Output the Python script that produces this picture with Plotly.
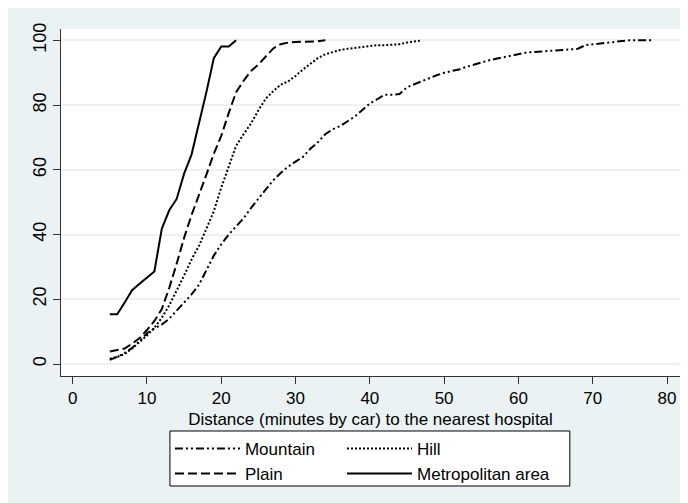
import plotly.graph_objects as go

# ---- data ----
metro_x = [5, 6, 7, 8, 9, 10, 11, 12, 13, 14, 15, 16, 17, 18, 19, 20, 21, 22]
metro_y = [15.4, 15.4, 19.0, 22.8, 24.8, 26.7, 28.6, 41.8, 47.5, 51.0, 58.8, 64.7, 74.0, 84.0, 94.5, 98.1, 98.1, 100]

plain_x = [5, 6, 7, 8, 9, 10, 11, 12, 13, 14, 15, 16, 17, 18, 19, 20, 21, 22, 23, 24, 25, 26, 27, 28, 29, 30, 31, 32, 33, 34]
plain_y = [3.9, 4.3, 4.8, 6.3, 8.0, 10.5, 13.3, 17.0, 23.5, 31.0, 39.0, 46.0, 52.0, 58.5, 65.0, 70.5, 77.5, 84.0,
           87.5, 90.5, 92.5, 95.0, 97.5, 98.8, 99.3, 99.5, 99.5, 99.5, 99.7, 100]

hill_x = list(range(5, 48))
hill_y = [1.6, 2.2, 3.1, 4.8, 6.8, 8.8, 11.2, 14.3, 18.1, 22.6, 27.3, 32.3, 36.5, 41.8, 47.2, 54.5, 61.0, 67.4,
          71.0, 74.3, 78.4, 82.0, 84.3, 86.3, 87.3, 89.0, 91.0, 92.8, 94.5, 95.7, 96.4, 97.0, 97.4, 97.7, 98.1,
          98.3, 98.5, 98.5, 98.6, 98.8, 99.3, 99.6, 100]

mountain_x = list(range(5, 79))
mountain_y = [1.3, 2.2, 3.4, 5.0, 7.0, 9.5, 11.0, 12.2, 14.0, 16.5, 18.8, 21.5, 24.5, 29.0, 33.5, 37.0, 40.0, 42.5,
              45.0, 48.2, 51.0, 54.0, 56.8, 59.0, 61.0, 62.5, 64.0, 66.5, 68.5, 71.0, 72.5, 73.5, 75.0, 76.5, 78.5,
              80.5, 81.8, 83.2, 83.2, 83.4, 85.5, 86.5, 87.3, 88.3, 89.2, 90.0, 90.5, 91.0, 91.8, 92.5, 93.2, 93.8,
              94.3, 94.8, 95.3, 95.8, 96.2, 96.4, 96.5, 96.6, 96.7, 97.0, 97.2, 97.4, 98.5, 98.8, 99.0, 99.2, 99.5,
              99.8, 100, 100, 100, 100]

x_ticks = [0, 10, 20, 30, 40, 50, 60, 70, 80]
y_ticks = [0, 20, 40, 60, 80, 100]
x_title = "Distance (minutes by car) to the nearest hospital"

BG = "#EAF2F3"
FONT = "Arial, 'Liberation Sans', sans-serif"
FS = 17

fig = go.Figure()
fig.add_trace(go.Scatter(x=mountain_x, y=mountain_y, mode="lines", name="Mountain", legend="legend",
                         line=dict(color="black", width=2, dash="8px,3px,2px,3px,2px,3px")))
fig.add_trace(go.Scatter(x=plain_x, y=plain_y, mode="lines", name="Plain", legend="legend",
                         line=dict(color="black", width=2, dash="9px,4px")))
fig.add_trace(go.Scatter(x=hill_x, y=hill_y, mode="lines", name="Hill", legend="legend2",
                         line=dict(color="black", width=2, dash="2px,2px")))
fig.add_trace(go.Scatter(x=metro_x, y=metro_y, mode="lines", name="Metropolitan area", legend="legend2",
                         line=dict(color="black", width=2)))

legend_common = dict(orientation="v", bgcolor="rgba(0,0,0,0)", borderwidth=0,
                     font=dict(family=FONT, size=FS, color="black"),
                     itemwidth=65, tracegroupgap=0, yanchor="top", xanchor="left")

fig.update_layout(
    width=688, height=503,
    margin=dict(l=53, r=16, t=21, b=135, autoexpand=False),
    paper_bgcolor=BG, plot_bgcolor="white",
    font=dict(family=FONT, size=FS, color="black"),
    showlegend=True,
    legend=dict(x=0.176, y=-0.158, **legend_common),
    legend2=dict(x=0.454, y=-0.158, **legend_common),
    xaxis=dict(range=[-1.57, 81.75], tickvals=x_ticks, ticks="outside", ticklen=7, tickcolor="#333",
               showline=True, linecolor="#333", linewidth=1, showgrid=False, zeroline=False,
               automargin=False,
               title=dict(text=x_title, font=dict(size=FS), standoff=5),
               tickfont=dict(size=FS)),
    yaxis=dict(range=[-3.7, 103.5], tickvals=y_ticks, ticks="outside", ticklen=7, tickcolor="#333",
               showline=True, linecolor="#333", linewidth=1, showgrid=True, gridcolor=BG, gridwidth=1.5,
               automargin=False,
               zeroline=False, tickangle=-90, tickfont=dict(size=18)),
    shapes=[dict(type="rect", xref="paper", yref="paper", x0=0.176, x1=0.822, y0=-0.317, y1=-0.1585,
                 fillcolor="white", line=dict(color="black", width=1), layer="below")],
)

fig.write_html("out.html")
